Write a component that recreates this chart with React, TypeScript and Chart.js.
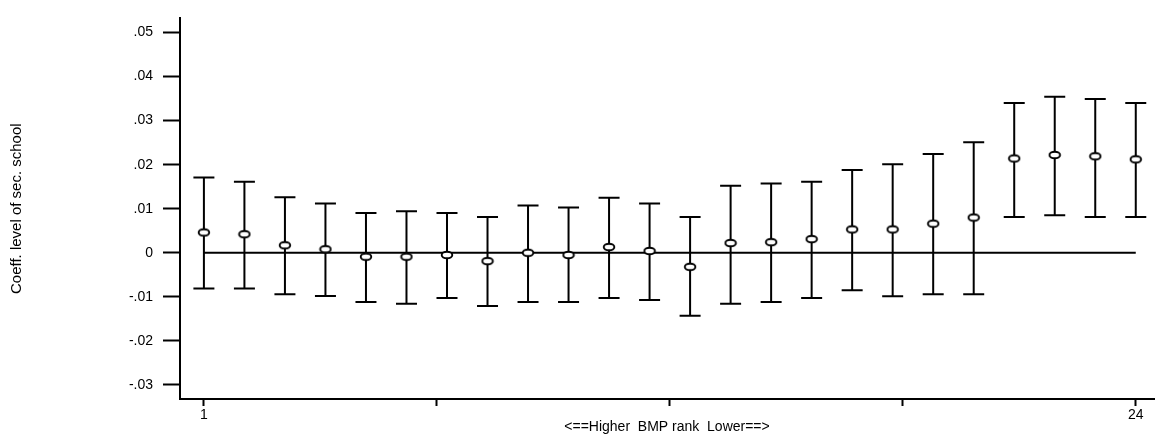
import React, { useEffect, useRef } from "react";
import { Chart, registerables } from "chart.js";

Chart.register(...registerables);

// ---- data ----
const ranks = [1, 2, 3, 4, 5, 6, 7, 8, 9, 10, 11, 12, 13, 14, 15, 16, 17, 18, 19, 20, 21, 22, 23, 24];
const coef = [0.0046, 0.0042, 0.0017, 0.0008, -0.0009, -0.0009, -0.0005, -0.0019, 0.0, -0.0005, 0.0013, 0.0004, -0.0032, 0.0022, 0.0024, 0.0031, 0.0053, 0.0053, 0.0066, 0.008, 0.0214, 0.0222, 0.0219, 0.0212];
const upper = [0.0171, 0.0161, 0.0126, 0.0112, 0.009, 0.0094, 0.009, 0.0081, 0.0107, 0.0103, 0.0125, 0.0112, 0.0081, 0.0152, 0.0157, 0.0161, 0.0188, 0.0201, 0.0224, 0.0251, 0.034, 0.0354, 0.0349, 0.034];
const lower = [-0.0081, -0.0081, -0.0094, -0.0098, -0.0112, -0.0116, -0.0103, -0.0121, -0.0112, -0.0112, -0.0103, -0.0107, -0.0143, -0.0116, -0.0112, -0.0103, -0.0085, -0.0099, -0.0094, -0.0094, 0.0081, 0.0085, 0.0081, 0.0081];
const zeroLineX = [1, 24];
const xTicks = [1, 6.75, 12.5, 18.25, 24];
const xTickLabels = ["1", "", "", "", "24"];
const yTicks = [-0.03, -0.02, -0.01, 0, 0.01, 0.02, 0.03, 0.04, 0.05];
const xTitle = "<==Higher  BMP rank  Lower==>";
const yTitle = "Coeff. level of sec. school";

const FONT = "'Liberation Sans', Arial, sans-serif";

function fmtY(v: number): string {
  if (Math.abs(v) < 1e-9) return "0";
  const s = Math.abs(v).toFixed(2).replace(/^0/, "");
  return (v < 0 ? "-" : "") + s;
}

function makeEllipse(): HTMLCanvasElement {
  const c = document.createElement("canvas");
  c.width = 14;
  c.height = 10;
  const g = c.getContext("2d")!;
  g.beginPath();
  g.ellipse(7, 5, 5.3, 3.3, 0, 0, Math.PI * 2);
  g.fillStyle = "#fff";
  g.fill();
  g.lineWidth = 1.9;
  g.strokeStyle = "#000";
  g.stroke();
  return c;
}

const errorBars = {
  id: "errorBars",
  beforeDatasetsDraw(chart: any) {
    const ctx = chart.ctx;
    const xs = chart.scales.x;
    const ys = chart.scales.y;
    ctx.save();
    ctx.strokeStyle = "#000";
    ctx.lineWidth = 2;
    const cap = 10.5;
    for (let i = 0; i < ranks.length; i++) {
      const x = xs.getPixelForValue(ranks[i]);
      const yt = ys.getPixelForValue(upper[i]);
      const yb = ys.getPixelForValue(lower[i]);
      ctx.beginPath();
      ctx.moveTo(x, yt);
      ctx.lineTo(x, yb);
      ctx.moveTo(x - cap, yt);
      ctx.lineTo(x + cap, yt);
      ctx.moveTo(x - cap, yb);
      ctx.lineTo(x + cap, yb);
      ctx.stroke();
    }
    ctx.restore();
  },
};

export default function App() {
  const ref = useRef<HTMLCanvasElement | null>(null);

  useEffect(() => {
    document.body.style.margin = "0";
    const canvas = ref.current!;
    const ellipse = makeEllipse();
    const chart = new Chart(canvas, {
      type: "scatter",
      data: {
        datasets: [
          {
            type: "line",
            data: zeroLineX.map((x) => ({ x, y: 0 })),
            borderColor: "#000",
            borderWidth: 2,
            pointRadius: 0,
            order: 2,
          } as any,
          {
            type: "scatter",
            data: ranks.map((r, i) => ({ x: r, y: coef[i] })),
            pointStyle: ellipse as any,
            pointRadius: 6,
            order: 1,
          } as any,
        ],
      },
      options: {
        animation: false,
        responsive: false,
        layout: { padding: { top: 13, left: 0, right: 0, bottom: 0 } },
        plugins: {
          legend: { display: false },
          tooltip: { enabled: false },
        },
        scales: {
          x: {
            type: "linear",
            min: 0.41,
            max: 24.45,
            afterBuildTicks: (s: any) => {
              s.ticks = xTicks.map((v) => ({ value: v }));
            },
            afterFit: (s: any) => {
              s.height = 38;
            },
            ticks: {
              autoSkip: false,
              maxRotation: 0,
              padding: 1,
              color: "#000",
              font: { family: FONT, size: 14 },
              callback: (_v: any, i: number) => xTickLabels[i],
            },
            grid: {
              drawOnChartArea: false,
              drawTicks: true,
              tickLength: 7,
              tickColor: "#000",
              tickWidth: 2,
            } as any,
            border: { display: true, color: "#000", width: 2 },
            title: {
              display: true,
              text: xTitle,
              color: "#000",
              font: { family: FONT, size: 14 },
              padding: { top: 0, bottom: 1 },
            },
          },
          y: {
            type: "linear",
            min: -0.0332,
            max: 0.0532,
            afterBuildTicks: (s: any) => {
              s.ticks = yTicks.map((v) => ({ value: v }));
            },
            afterFit: (s: any) => {
              s.width = 180;
            },
            ticks: {
              autoSkip: false,
              padding: 10,
              color: "#000",
              font: { family: FONT, size: 14 },
              callback: (v: any) => fmtY(Number(v)),
            },
            grid: {
              drawOnChartArea: false,
              drawTicks: true,
              tickLength: 17,
              tickColor: "#000",
              tickWidth: 2,
            } as any,
            border: { display: true, color: "#000", width: 2 },
            title: {
              display: true,
              text: yTitle,
              color: "#000",
              font: { family: FONT, size: 15 },
              padding: { top: 8, bottom: 0 },
            },
          },
        },
      },
      plugins: [errorBars],
    } as any);
    return () => chart.destroy();
  }, []);

  return (
    <div style={{ position: "absolute", left: 0, top: 0, width: 1161, height: 437, background: "#fff" }}>
      <canvas ref={ref} width={1161} height={437} style={{ display: "block", width: 1161, height: 437 }} />
    </div>
  );
}
